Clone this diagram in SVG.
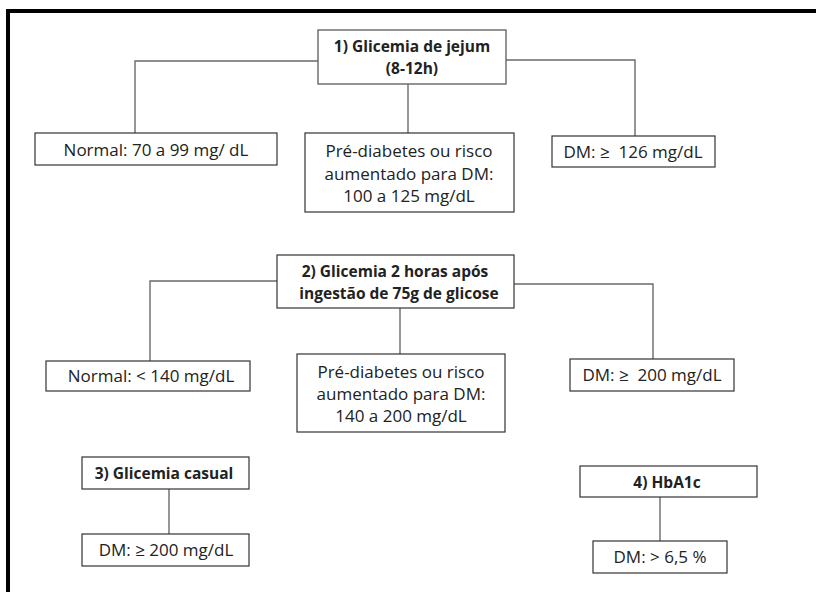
<svg xmlns="http://www.w3.org/2000/svg" width="816" height="592" viewBox="0 0 816 592">
<style>
.box{fill:#fff;stroke:#333;stroke-width:1.2}
.hd{fill:#fff;stroke:#666;stroke-width:1.4}
.t{font-family:"Open Sans","Liberation Sans",sans-serif;font-size:17px;fill:#222;text-anchor:middle;white-space:pre}
.b{font-weight:bold;font-size:15.5px}
.c{fill:none;stroke:#6a6a6a;stroke-width:1.4}
</style>
<rect x="0" y="0" width="816" height="592" fill="#fff"/>
<path d="M8,592 V11 H816" fill="none" stroke="#000" stroke-width="4"/>
<g id="connectors">
<path class="c" d="M318,61 H135 V133"/>
<path class="c" d="M506,60 H635 V136"/>
<path class="c" d="M408,84 V133"/>
<path class="c" d="M277,281 H150 V361"/>
<path class="c" d="M514,284 H653 V359"/>
<path class="c" d="M400,308 V354"/>
<path class="c" d="M169,489 V534"/>
<path class="c" d="M660,497 V541"/>
</g>
<g id="n1">
<rect class="hd" x="318" y="30" width="188" height="54"/>
<text class="t b" x="412" y="52">1) Glicemia de jejum</text>
<text class="t b" x="412" y="74">(8-12h)</text>
</g>
<g id="n1a">
<rect class="box" x="35" y="133" width="242" height="32"/>
<text class="t" x="156" y="156">Normal: 70 a 99 mg/ dL</text>
</g>
<g id="n1b">
<rect class="box" x="305" y="133" width="209" height="79"/>
<text class="t" x="409" y="157">Pré-diabetes ou risco</text>
<text class="t" x="409" y="180">aumentado para DM:</text>
<text class="t" x="409" y="202">100 a 125 mg/dL</text>
</g>
<g id="n1c">
<rect class="box" x="552" y="136" width="163" height="31"/>
<text class="t" x="633" y="158" xml:space="preserve">DM: ≥  126 mg/dL</text>
</g>
<g id="n2">
<rect class="box" x="277" y="255" width="237" height="53"/>
<text class="t b" x="395" y="277">2) Glicemia 2 horas após</text>
<text class="t b" x="399" y="299">ingestão de 75g de glicose</text>
</g>
<g id="n2a">
<rect class="box" x="46" y="361" width="204" height="30"/>
<text class="t" x="151" y="382">Normal: &lt; 140 mg/dL</text>
</g>
<g id="n2b">
<rect class="box" x="297" y="354" width="208" height="78"/>
<text class="t" x="401" y="378">Pré-diabetes ou risco</text>
<text class="t" x="401" y="400">aumentado para DM:</text>
<text class="t" x="401" y="422">140 a 200 mg/dL</text>
</g>
<g id="n2c">
<rect class="box" x="570" y="359" width="164" height="32"/>
<text class="t" x="652" y="381" xml:space="preserve">DM: ≥  200 mg/dL</text>
</g>
<g id="n3">
<rect class="box" x="82" y="457" width="167" height="32"/>
<text class="t b" x="164" y="479">3) Glicemia casual</text>
</g>
<g id="n3a">
<rect class="box" x="82" y="534" width="167" height="32"/>
<text class="t" x="166" y="556">DM: ≥ 200 mg/dL</text>
</g>
<g id="n4">
<rect class="box" x="580" y="466" width="177" height="31"/>
<text class="t b" x="667" y="488">4) HbA1c</text>
</g>
<g id="n4a">
<rect class="box" x="593" y="541" width="134" height="32"/>
<text class="t" x="660" y="563">DM: &gt; 6,5 %</text>
</g>
</svg>
